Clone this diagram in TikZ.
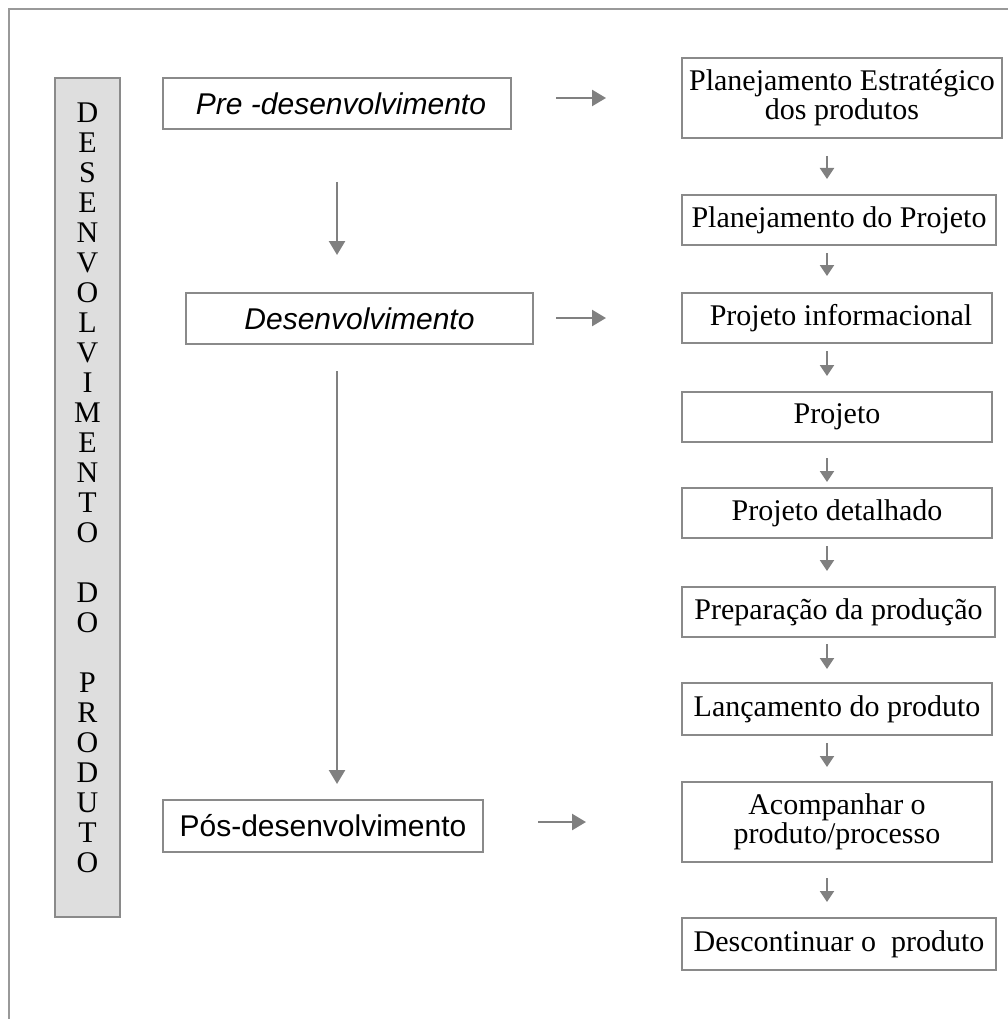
\documentclass[tikz,border=0pt]{standalone}
\usepackage{fontspec}
\setmainfont{Liberation Serif}
\newfontfamily\arialfont{Liberation Sans}
\usetikzlibrary{arrows.meta,calc}
\definecolor{boxgray}{HTML}{8A8A8A}
\definecolor{arrgray}{HTML}{808080}
\definecolor{framegray}{HTML}{999999}
\definecolor{fillgray}{HTML}{DEDEDE}
\begin{document}
\begin{tikzpicture}[x=1pt,y=-1pt,
  box/.style={draw=boxgray, line width=2pt, fill=white, inner sep=0pt, align=center,
    font=\fontsize{30}{29}\selectfont},
  lbox/.style={box, font=\arialfont\itshape\fontsize{30}{30}\selectfont},
  pbox/.style={box, font=\arialfont\fontsize{30}{30}\selectfont},
  arr/.style={draw=arrgray, line width=2.5pt, -{Triangle[width=16pt,length=14pt]}},
  sarr/.style={draw=arrgray, line width=2.2pt, -{Triangle[width=14pt,length=11pt]}}]
\useasboundingbox (0,0) rectangle (1008,1019);
% outer frame (open to the right and bottom)
\draw[framegray, line width=2pt] (9,1030) -- (9,9) -- (1030,9);
% left vertical band
\node[draw=boxgray, fill=fillgray, line width=2pt, minimum width=65pt, minimum height=839pt, inner sep=0pt] (band) at (87.5,497.5) {};
\node[align=center, inner sep=0pt, font=\fontsize{30}{30}\selectfont] (bandtext) at (87.5,488)
 {D\\E\\S\\E\\N\\V\\O\\L\\V\\I\\M\\E\\N\\T\\O\\\mbox{}\\D\\O\\\mbox{}\\P\\R\\O\\D\\U\\T\\O};
% left phase boxes
\node[lbox, minimum width=348pt, minimum height=51pt] (pre) at (337,103.5) {\hspace*{8pt}Pre -desenvolvimento};
\node[lbox, minimum width=347pt, minimum height=51pt] (dev) at (359.5,318.5) {Desenvolvimento};
\node[pbox, minimum width=320pt, minimum height=52pt] (pos) at (323,826) {Pós-desenvolvimento};
% right column boxes
\node[box, minimum width=320pt, minimum height=80pt] (b1) at (842,98) {Planejamento Estratégico\\dos produtos};
\node[box, minimum width=314pt, minimum height=50pt] (b2) at (839,220) {Planejamento do Projeto};
\node[box, minimum width=310pt, minimum height=50pt] (b3) at (837,318) {\hspace*{8pt}Projeto informacional};
\node[box, minimum width=310pt, minimum height=50pt] (b4) at (837,417) {Projeto};
\node[box, minimum width=310pt, minimum height=50pt] (b5) at (837,513) {Projeto detalhado};
\node[box, minimum width=313pt, minimum height=50pt] (b6) at (838.5,612) {Preparação da produção};
\node[box, minimum width=310pt, minimum height=52pt] (b7) at (837,709) {Lançamento do produto};
\node[box, minimum width=310pt, minimum height=80pt] (b8) at (837,822) {Acompanhar o\\produto/processo};
\node[box, minimum width=314pt, minimum height=52pt] (b9) at (839,944) {Descontinuar o~~produto};
% horizontal arrows
\draw[arr, shorten <=44pt, shorten >=75pt] (pre.east |- b1.west) -- (b1.west);
\draw[arr, shorten <=22pt, shorten >=75pt] (dev.east |- b3.west) -- (b3.west);
\draw[arr, shorten <=54pt, shorten >=95pt] (pos.east |- b8.west) -- (b8.west);
% vertical arrows on the left
\draw[arr, shorten <=52pt, shorten >=37pt] (pre.south) -- (pre.south |- dev.north);
\draw[arr, shorten <=26pt, shorten >=15pt] (pre.south |- dev.south) -- (pre.south |- pos.north);
% small arrows in the right column
\coordinate (ax) at (827,0);
\draw[sarr, shorten <=17pt, shorten >=15pt] (b1.south -| ax) -- (b2.north -| ax);
\draw[sarr, shorten <=7pt, shorten >=16pt] (b2.south -| ax) -- (b3.north -| ax);
\draw[sarr, shorten <=7pt, shorten >=15pt] (b3.south -| ax) -- (b4.north -| ax);
\draw[sarr, shorten <=15pt, shorten >=5pt] (b4.south -| ax) -- (b5.north -| ax);
\draw[sarr, shorten <=7pt, shorten >=15pt] (b5.south -| ax) -- (b6.north -| ax);
\draw[sarr, shorten <=6pt, shorten >=13pt] (b6.south -| ax) -- (b7.north -| ax);
\draw[sarr, shorten <=7pt, shorten >=14pt] (b7.south -| ax) -- (b8.north -| ax);
\draw[sarr, shorten <=15pt, shorten >=15pt] (b8.south -| ax) -- (b9.north -| ax);
\end{tikzpicture}
\end{document}
